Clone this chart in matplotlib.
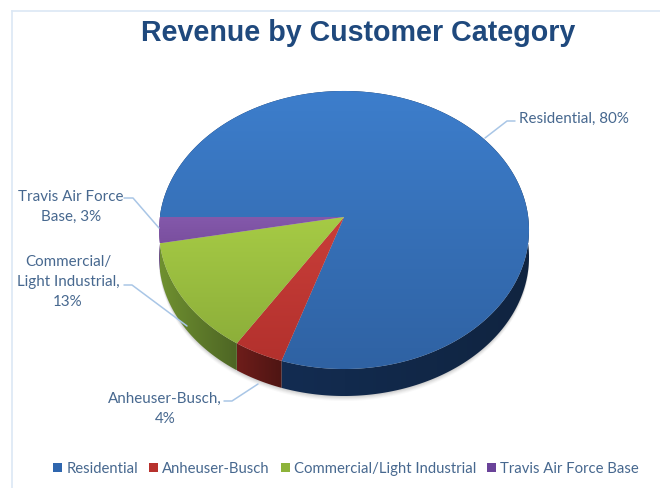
import numpy as np
import matplotlib
matplotlib.use("Agg")
import matplotlib.pyplot as plt
from matplotlib.patches import Polygon, Patch
from matplotlib.colors import to_rgb

categories = ["Residential", "Anheuser-Busch", "Commercial/Light Industrial", "Travis Air Force Base"]
values = [80, 4, 13, 3]
label_texts = ["Residential, 80%", "Anheuser-Busch,\n4%", "Commercial/\nLight Industrial,\n13%", "Travis Air Force\nBase, 3%"]

top_light = ["#3D7ECC", "#C93E39", "#A6CB45", "#8459AB"]
top_dark = ["#2F62A3", "#B3312D", "#8DAF3A", "#7A4F9F"]
wall_left = ["#14305A", "#6E1D1A", "#6F9030", "#5A3A78"]
wall_right = ["#102440", "#4E1513", "#4D6524", "#5A3A78"]
legend_cols = ["#2F66AE", "#B7312D", "#8DB33A", "#6A4399"]

INK = "#47688F"
CX, Y0, R, S, K, DEPTH = 344, 218, 184.2, 137.8, 0.0935, 27

plt.rcParams["font.family"] = ["Lato", "DejaVu Sans"]
fig = plt.figure(figsize=(6.6, 4.89), dpi=100, facecolor="white")
ax = fig.add_axes([0, 0, 1, 1])
ax.set_axis_off()


def rim(compass_deg):
    t = np.radians(compass_deg)
    u, v = np.sin(t), -np.cos(t)
    d = 1 - K * v
    return CX + R * u / d, Y0 + S * v / d


def grad(poly, c0, c1, horizontal=False, z=2):
    xy = poly.get_xy()
    x0, x1, y0, y1 = xy[:, 0].min(), xy[:, 0].max(), xy[:, 1].min(), xy[:, 1].max()
    f = np.linspace(0, 1, 128)
    c = np.outer(1 - f, to_rgb(c0)) + np.outer(f, to_rgb(c1))
    img = c[None, :, :] if horizontal else c[:, None, :]
    im = ax.imshow(img, extent=(x0, x1, y1, y0), aspect="auto", zorder=z, interpolation="bilinear")
    poly.set_transform(ax.transData)
    poly.set_facecolor("none")
    poly.set_edgecolor("none")
    ax.add_patch(poly)
    im.set_clip_path(poly)


# soft shadow beneath the pie
full = np.linspace(0, 360, 361)
fx, fy = rim(full)
for grow, a in zip([5, 4, 3, 2, 1], [.03, .04, .05, .06, .08]):
    ax.add_patch(Polygon(np.c_[fx, fy + DEPTH + grow], fc="#404040", ec="none", alpha=a, zorder=1))

# Clockwise from 9 o'clock
edges = 270 + np.cumsum([0] + values) * 3.6
for i in range(len(values)):
    a = np.linspace(edges[i], edges[i + 1], max(8, int((edges[i + 1] - edges[i]) * 2)))
    x, y = rim(a)
    wall = Polygon(np.r_[np.c_[x, y], np.c_[x, y + DEPTH][::-1]], closed=True)
    grad(wall, wall_left[i], wall_right[i], horizontal=True, z=2)
for i in range(len(values)):
    a = np.linspace(edges[i], edges[i + 1], max(8, int((edges[i + 1] - edges[i]) * 2)))
    x, y = rim(a)
    top = Polygon(np.r_[[[CX, Y0]], np.c_[x, y]], closed=True)
    grad(top, top_light[i], top_dark[i], z=3)

# leader lines
LINE = "#A9C6E6"
leaders = [
    ([485, 507, 515], [139, 122, 122]),
    ([258, 232, 224], [385, 402, 402]),
    ([187, 132, 124], [327, 286, 286]),
    ([159, 133, 124], [229, 199, 199]),
]
for lx, ly in leaders:
    ax.plot(lx, ly, color=LINE, lw=1.1, zorder=4, solid_capstyle="round")

LFS = 10.9
LSP = 1.53
ax.text(519, 119, label_texts[0], ha="left", va="center", color=INK, fontsize=LFS)
ax.text(165, 409, label_texts[1], ha="center", va="center", color=INK, fontsize=LFS, linespacing=LSP)
ax.text(68, 282, label_texts[2], ha="center", va="center", color=INK, fontsize=LFS, linespacing=LSP)
ax.text(71, 206.5, label_texts[3], ha="center", va="center", color=INK, fontsize=LFS, linespacing=LSP)

ax.text(358.5, 33, "Revenue by Customer Category", ha="center", va="center",
        family="Liberation Sans", weight="bold", fontsize=20.65, color="#1F497D")

# frame lines
ax.plot([12, 660], [11.5, 11.5], color="#DCE8F5", lw=1.2, zorder=1)
ax.plot([12, 12], [11.5, 489], color="#DCE8F5", lw=1.2, zorder=1)

handles = [Patch(fc=c, ec="none") for c in legend_cols]
ax.legend(handles, categories, loc="center", bbox_to_anchor=(346 / 660, 1 - 469.5 / 489),
          ncol=4, frameon=False, fontsize=10.7, labelcolor=INK, handlelength=0.6, handleheight=0.6,
          handletextpad=0.27, columnspacing=0.74, borderpad=0, borderaxespad=0)

ax.set_xlim(0, 660)
ax.set_ylim(489, 0)
fig.savefig("out.png", dpi=100, facecolor="white")
